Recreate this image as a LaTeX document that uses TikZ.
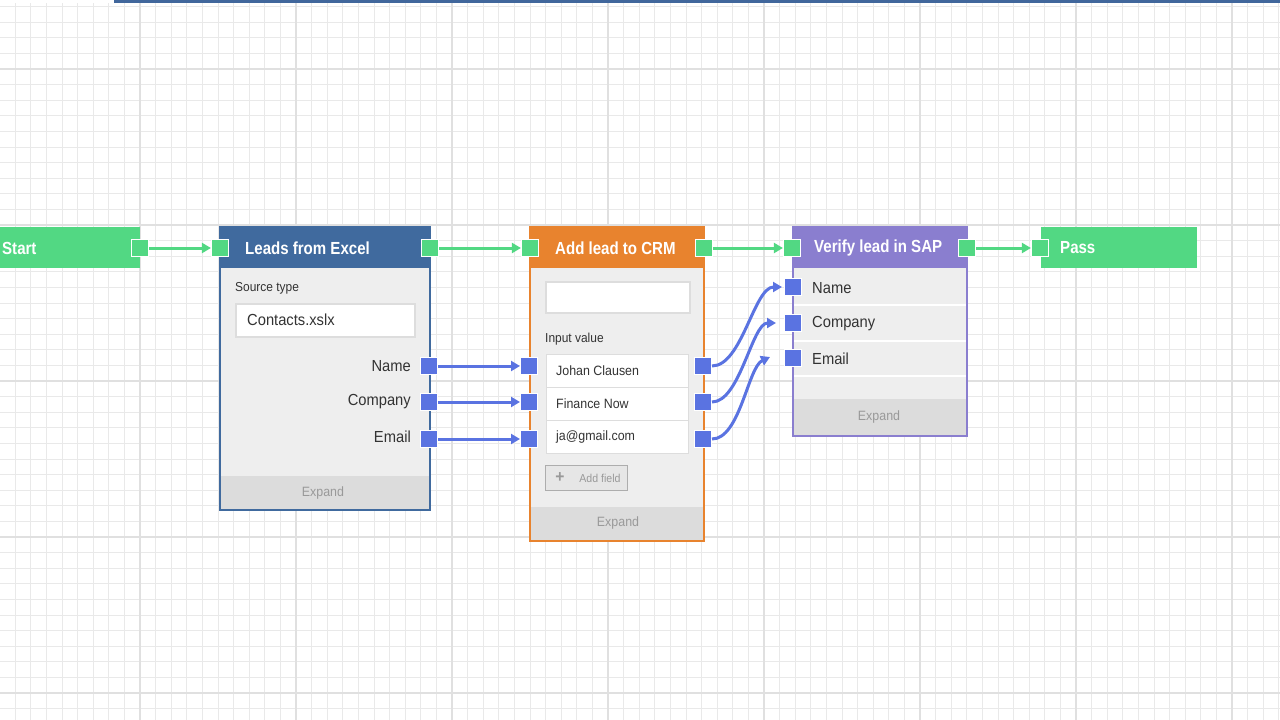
\documentclass[tikz,border=0pt]{standalone}
\usepackage{fontspec}
\setmainfont[FakeStretch=0.92]{Liberation Sans}
\newfontfamily\titlefont[FakeStretch=0.86]{Liberation Sans}
\usetikzlibrary{arrows.meta}
\definecolor{gridminor}{HTML}{E9E9E9}
\definecolor{gridmajor}{HTML}{E0E0E0}
\definecolor{flowgreen}{HTML}{52D883}
\definecolor{excelblue}{HTML}{406A9E}
\definecolor{crmorange}{HTML}{E8832E}
\definecolor{sappurple}{HTML}{8A7ECF}
\definecolor{portblue}{HTML}{5A73E1}
\definecolor{bodygray}{HTML}{EEEEEE}
\definecolor{footgray}{HTML}{DCDCDC}
\definecolor{textdark}{HTML}{333333}
\definecolor{textgray}{HTML}{999999}
\definecolor{fieldline}{HTML}{DDDDDD}
\definecolor{topblue}{HTML}{41679C}
\tikzset{
  gport/.style={rectangle, minimum size=17pt, inner sep=0pt, fill=flowgreen, draw=white, line width=1.2pt},
  bport/.style={rectangle, minimum size=17pt, inner sep=0pt, fill=portblue, draw=white, line width=1pt},
  flow/.style={flowgreen, line width=3pt, -{Triangle[length=9pt,width=10pt]}},
  data/.style={portblue, line width=3pt, -{Triangle[length=9pt,width=10pt]}},
  title/.style={anchor=west, inner sep=0pt, text=white, font=\titlefont\bfseries\fontsize{17.5}{20}\selectfont},
  label/.style={inner sep=0pt, text=textdark, font=\fontsize{16}{18}\selectfont},
  small/.style={inner sep=0pt, text=textdark, font=\fontsize{13}{15}\selectfont},
  expand/.style={inner sep=0pt, text=textgray, font=\fontsize{13.5}{15}\selectfont},
  field/.style={anchor=west, inner sep=0pt, text=textdark, font=\fontsize{13.5}{15}\selectfont},
}
\begin{document}
\begin{tikzpicture}[x=1pt,y=-1pt]
\useasboundingbox (0,0) rectangle (1280,720);
\fill[white] (0,0) rectangle (1280,720);
% grid
\foreach \i in {-1,...,81} {\draw[gridminor, line width=1pt] ({15.2+15.6*\i},0) -- ({15.2+15.6*\i},720);}
\foreach \i in {-1,...,46} {\draw[gridminor, line width=1pt] (0,{6.6+15.6*\i}) -- (1280,{6.6+15.6*\i});}
\foreach \i in {-1,...,8} {\draw[gridmajor, line width=1.6pt] ({-16+156*\i},0) -- ({-16+156*\i},720);}
\foreach \i in {0,...,4} {\draw[gridmajor, line width=1.6pt] (0,{69+156*\i}) -- (1280,{69+156*\i});}
\fill[white] (0,0) rectangle (114,3);
\fill[topblue] (114,0) rectangle (1280,2.5);

% ---------- Start ----------
\fill[flowgreen] (0,227) rectangle (140,268);
\node[title] (starttitle) at (2,248) {Start};
\node[gport] (startout) at (140,248) {};

% ---------- Leads from Excel ----------
\fill[bodygray] (220,227) rectangle (430,510);
\fill[footgray] (220,476) rectangle (430,510);
\fill[excelblue] (220,227) rectangle (430,268);
\draw[excelblue, line width=1.5pt] (220,227) rectangle (430,510);
\node[title] (exceltitle) at (245,248) {Leads from Excel};
\node[small, anchor=west] (srctype) at (235,288) {Source type};
\node[draw=fieldline, line width=2pt, fill=white, minimum width=179pt, minimum height=33pt, anchor=north west] (srcbox) at (235,303) {};
\node[label, anchor=west] (srcval) at (247,320) {Contacts.xslx};
\node[label, anchor=east] (xname) at (411,366) {Name};
\node[label, anchor=east] (xcomp) at (411,402) {Company};
\node[label, anchor=east] (xmail) at (411,437) {Email};
\node[expand] (xexpand) at (323,493) {Expand};
\node[gport] (excelin) at (220,248) {};
\node[gport] (excelout) at (430,248) {};
\node[bport] (xo1) at (429,366) {};
\node[bport] (xo2) at (429,402) {};
\node[bport] (xo3) at (429,439) {};

% ---------- Add lead to CRM ----------
\fill[bodygray] (530,227) rectangle (704,541);
\fill[footgray] (530,507) rectangle (704,541);
\fill[crmorange] (530,227) rectangle (704,268);
\draw[crmorange, line width=1.5pt] (530,227) rectangle (704,541);
\node[title] (crmtitle) at (555,248) {Add lead to CRM};
\node[draw=fieldline, line width=2pt, fill=white, minimum width=144pt, minimum height=31pt, anchor=north west] (crmbox) at (545,281) {};
\node[small, anchor=west] (inputval) at (545,339) {Input value};
\node[draw=fieldline, line width=1.2pt, fill=white, minimum width=142pt, minimum height=33pt, anchor=north west] (row1) at (546,354) {};
\node[draw=fieldline, line width=1.2pt, fill=white, minimum width=142pt, minimum height=33pt, anchor=north west] (row2) at (546,387) {};
\node[draw=fieldline, line width=1.2pt, fill=white, minimum width=142pt, minimum height=33pt, anchor=north west] (row3) at (546,420) {};
\node[field] (f1) at (556,371) {Johan Clausen};
\node[field] (f2) at (556,404) {Finance Now};
\node[field] (f3) at (556,437) {ja@gmail.com};
\node[draw=textgray!80, line width=1.2pt, fill=footgray!70, minimum width=82pt, minimum height=25pt, anchor=north west] (addbtn) at (545,465) {};
\node[inner sep=0pt, text=textgray, font=\bfseries\fontsize{17}{17}\selectfont] (plus) at (560,478) {+};
\node[inner sep=0pt, text=textgray, font=\fontsize{11.5}{13}\selectfont] (addfield) at (600,478) {Add field};
\node[expand] (cexpand) at (618,523) {Expand};
\node[gport] (crmin) at (530,248) {};
\node[gport] (crmout) at (704,248) {};
\node[bport] (ci1) at (529,366) {};
\node[bport] (ci2) at (529,402) {};
\node[bport] (ci3) at (529,439) {};
\node[bport] (co1) at (703,366) {};
\node[bport] (co2) at (703,402) {};
\node[bport] (co3) at (703,439) {};

% ---------- Verify lead in SAP ----------
\fill[bodygray] (793,227) rectangle (967,436);
\fill[footgray] (793,399) rectangle (967,436);
\fill[sappurple] (793,227) rectangle (967,268);
\foreach \yy in {305,341,376} {\draw[white, line width=2pt] (794,\yy) -- (966,\yy);}
\draw[sappurple, line width=1.5pt] (793,227) rectangle (967,436);
\node[title] (saptitle) at (814,248) {Verify lead in SAP};
\node[label, anchor=west] (sname) at (812,288) {Name};
\node[label, anchor=west] (scomp) at (812,324) {Company};
\node[label, anchor=west] (smail) at (812,359) {Email};
\node[expand] (sexpand) at (879,417) {Expand};
\node[gport] (sapin) at (792,248) {};
\node[gport] (sapout) at (967,248) {};
\node[bport] (si1) at (793,287) {};
\node[bport] (si2) at (793,323) {};
\node[bport] (si3) at (793,358) {};

% ---------- Pass ----------
\fill[flowgreen] (1041,227) rectangle (1197,268);
\node[title] (passtitle) at (1060,248) {Pass};
\node[gport] (passin) at (1040,248) {};

% ---------- connectors ----------
\draw[flow] (startout) -- (excelin);
\draw[flow] (excelout) -- (crmin);
\draw[flow] (crmout) -- (sapin);
\draw[flow] (sapout) -- (passin);
\draw[data] (xo1) -- (ci1);
\draw[data] (xo2) -- (ci2);
\draw[data] (xo3) -- (ci3);
\draw[data, shorten >=2pt] (co1.east) .. controls +(30,0) and +(-30,0) .. (si1.west);
\draw[data, shorten >=4pt] (co2.east) .. controls +(28,0) and +(-28,0) .. ([xshift=-4pt]si2.west);
\coordinate (mailend) at (770,357);
\draw[data] (co3.east) .. controls +(28,0) and +(-22,10) .. (mailend);
\end{tikzpicture}
\end{document}
